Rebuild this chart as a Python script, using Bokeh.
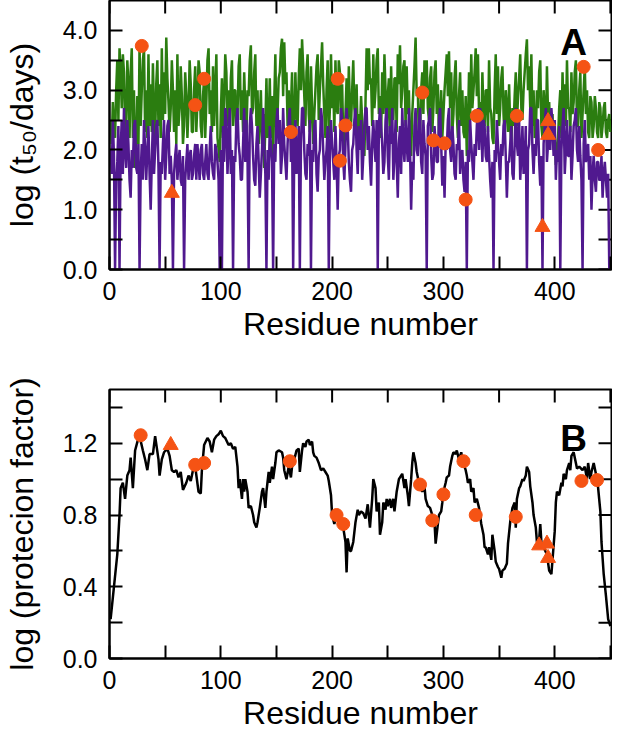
import math
from bokeh.plotting import figure
from bokeh.models import Range1d, FixedTicker, Label, NumeralTickFormatter
from bokeh.layouts import column
from bokeh.embed import file_html
from bokeh.resources import INLINE

# ---------------- data: panel A (one value per residue, 1..450) ----------------
residue_a = list(range(1, 451))

green_a = [
    2.5, 2.1, 2.8, 2.4, 2.2, 3.0, 3.5, 2.5, 3.7, 3.3, 2.7, 3.6, 3.3, 2.3, 2.4, 3.5, 3.1, 2.2, 3.3, 3.7,
    2.2, 3.0, 1.7, 2.0, 2.9, 2.1, 3.75, 2.4, 3.0, 3.5, 3.7, 2.3, 3.0, 2.2, 3.6, 2.4, 3.1, 2.3, 3.45, 2.6,
    2.2, 3.1, 3.5, 2.4, 3.1, 2.2, 3.7, 2.5, 3.3, 2.6, 3.88, 3.2, 2.8, 2.3, 2.7, 3.5, 3.0, 2.3, 3.0, 2.1,
    3.6, 2.4, 2.7, 3.4, 2.9, 2.1, 2.4, 3.3, 2.9, 2.2, 2.7, 3.5, 3.1, 2.3, 2.3, 3.0, 3.4, 2.3, 2.8, 3.5,
    3.3, 2.4, 2.2, 2.9, 3.2, 2.2, 2.8, 3.5, 3.7, 2.6, 3.0, 2.3, 3.4, 2.4, 3.0, 3.6, 2.2, 2.0, 1.8, 2.6,
    3.2, 2.2, 2.8, 3.6, 3.3, 2.4, 3.0, 2.2, 3.2, 3.5, 2.4, 3.0,
    3.0, 2.2, 2.6, 3.4, 3.6, 2.5, 3.0, 2.3, 3.3, 2.7, 2.2, 3.0, 2.9, 3.5, 3.75, 2.6, 2.7, 3.3, 3.6, 2.4,
    3.0, 2.1, 2.5, 3.0, 2.1, 2.6, 1.7, 2.4, 3.2, 2.2, 2.4, 3.2, 2.2, 2.9, 1.9, 2.8, 3.6, 2.3, 2.6, 3.2,
    3.3, 3.7, 3.86, 2.9, 3.8, 3.1, 3.3, 2.4, 3.0, 2.2, 2.7, 3.3, 2.0, 2.4, 3.3, 2.6, 2.4, 3.2, 3.7, 3.0,
    3.85, 3.4, 2.9, 2.4, 3.3, 3.6, 2.6, 2.3, 3.4, 2.7, 2.1, 2.6, 3.0, 3.4, 3.6, 2.5, 3.0, 3.4, 3.8, 3.1,
    2.6, 2.2, 3.0, 3.5, 2.2, 2.7, 3.6, 2.7, 3.1, 2.3, 3.5, 2.7, 2.6, 3.5, 3.3, 2.4, 3.1, 2.2, 1.9, 2.6,
    3.2, 2.3, 3.4, 2.7, 2.4, 3.0, 3.5, 2.7, 2.5, 3.1, 2.2, 2.6,
    2.3, 2.9, 2.5, 2.1, 1.9, 2.8, 3.7, 3.0, 3.7, 3.1, 3.2, 2.4, 3.6, 2.7, 3.0, 3.5, 3.7, 2.6, 2.9, 2.2,
    3.3, 2.6, 3.6, 3.0, 2.2, 2.9, 3.2, 2.3, 3.4, 2.6, 2.5, 3.2, 3.2, 2.3, 3.6, 3.1, 3.75, 2.7, 3.0, 3.4,
    3.5, 2.4, 3.4, 2.6, 3.0, 2.1, 1.9, 2.6, 3.0, 3.4, 3.88, 2.9, 3.0, 2.1, 2.3, 3.0, 3.3, 2.6, 3.5, 2.9,
    3.5, 2.7, 2.5, 3.2, 3.4, 2.3, 2.7, 3.3, 3.5, 2.6, 3.1, 2.2, 2.5, 3.0, 2.2, 2.6, 3.0, 3.3, 3.6, 2.9,
    3.65, 2.7, 3.3, 2.3, 2.6, 3.2, 3.5, 2.6, 2.2, 2.9, 3.3, 2.4, 3.0, 2.3, 2.2, 2.9, 1.9, 2.4, 3.3, 2.5,
    3.6, 2.7, 3.0, 3.3, 3.7, 2.9, 3.6, 2.6, 2.8, 2.2, 3.3, 2.6, 2.4, 3.0,
    3.0, 2.3, 3.5, 2.7, 2.6, 2.2, 2.1, 3.0, 3.6, 2.6, 3.4, 2.4, 2.7, 3.2, 3.4, 2.6, 2.2, 3.0, 2.7, 2.3,
    3.1, 2.4, 2.1, 2.7, 2.4, 2.9, 3.3, 2.4, 2.9, 3.2, 3.6, 2.7, 2.5, 3.0, 3.3, 3.6, 3.85, 3.0, 3.4, 2.7,
    3.6, 2.4, 3.0, 2.2, 2.3, 3.0, 2.7, 3.3, 3.5, 2.4, 2.2, 3.0, 2.7, 2.2, 3.4, 2.6, 2.8, 2.3, 2.2, 2.6,
    2.0, 2.3, 1.75, 2.0, 2.2, 2.7, 3.0, 2.2, 3.3, 2.6, 3.1, 2.4, 3.5, 2.7, 2.7, 2.3, 3.3, 2.6, 2.8, 3.3,
    3.5, 2.4, 2.4, 3.0, 3.3, 2.2, 2.6, 3.0, 3.4, 2.6, 3.0, 2.3, 2.2, 2.9, 2.8, 2.2, 2.4, 2.9, 2.7, 2.3,
    2.2, 2.8, 2.7, 2.2, 2.4, 2.7, 2.8, 2.3, 2.2, 2.5, 2.6, 2.3,
]

purple_a = [
    2.0, 1.6, 2.5, 1.9, 0, 1.5, 1.8, 2.4, 0, 2.0, 2.5, 1.6, 2.7, 2.0, 1.7, 2.5, 2.1, 1.5, 1.2, 2.0,
    1.7, 2.4, 2.5, 1.7, 1.6, 2.1, 0, 1.6, 2.1, 1.5, 2.5, 2.0, 1.5, 2.0, 2.4, 1.6, 1.0, 1.8, 2.5, 1.6,
    2.0, 2.4, 2.5, 1.7, 0, 1.8, 1.6, 2.1, 2.5, 1.5, 1.9, 2.4, 2.5, 1.6, 1.9, 1.5, 0, 1.6, 1.9, 2.1,
    1.5, 1.8, 2.0, 1.5, 1.4, 1.9, 0, 1.5, 1.8, 2.1, 1.5, 1.9, 2.0, 1.5, 1.6, 1.9, 2.1, 1.5, 2.1, 1.8,
    1.5, 2.0, 2.1, 1.6, 1.5, 1.8, 2.1, 1.6, 1.5, 2.0, 2.4, 1.8, 1.6, 1.5, 2.1, 2.0, 1.8, 1.5, 0, 2.0,
    0, 2.4, 1.8, 2.7, 2.5, 1.6, 2.1, 2.7, 1.6, 2.0, 0, 1.9,
    1.8, 2.5, 2.7, 2.1, 1.9, 1.5, 1.5, 2.1, 2.7, 1.8, 2.5, 1.9, 0, 2.4, 2.7, 2.4, 1.9, 1.5, 1.4, 2.1,
    2.4, 1.8, 1.2, 1.6, 2.0, 2.7, 2.1, 1.6, 0, 2.0, 1.5, 2.4, 2.1, 1.8, 0, 2.1, 1.8, 2.5, 2.7, 2.1,
    2.5, 1.6, 1.9, 2.7, 2.1, 1.8, 1.5, 2.1, 2.5, 2.7, 1.8, 2.4, 0, 2.0, 2.5, 1.6, 1.9, 2.4, 0, 2.1,
    2.7, 2.7, 2.0, 1.6, 1.5, 2.1, 1.9, 2.5, 0, 2.0, 1.8, 2.4, 2.5, 1.6, 1.3, 1.9, 2.0, 2.7, 2.5, 2.0,
    1.5, 1.8, 2.0, 2.4, 0, 2.0, 2.5, 2.1, 1.8, 1.5, 2.4, 1.8, 1.0, 1.9, 2.0, 2.7, 2.5, 1.8, 1.5, 2.1,
    2.7, 2.4, 1.8, 1.5, 1.3, 2.0, 2.1, 2.5, 2.7, 2.0, 1.6, 2.4,
    2.0, 2.5, 1.5, 1.9, 2.4, 2.7, 2.7, 2.0, 2.4, 1.8, 1.4, 2.1, 2.5, 2.1, 1.8, 2.5, 0, 2.4, 2.7, 2.4,
    2.1, 1.6, 1.8, 2.5, 2.7, 1.9, 1.5, 2.4, 2.1, 2.7, 1.5, 1.9, 2.5, 1.8, 1.2, 2.1, 2.4, 1.6, 2.7, 2.1,
    1.8, 2.5, 2.1, 1.8, 2.7, 2.0, 1.0, 1.8, 1.5, 2.4, 2.7, 2.0, 1.9, 2.4, 2.7, 1.8, 1.6, 2.5, 2.1, 1.9,
    0, 2.4, 2.5, 2.7, 1.9, 1.5, 1.6, 2.4, 2.1, 1.8, 1.8, 2.5, 2.7, 2.1, 1.4, 1.9, 1.2, 2.1, 2.0, 2.5,
    2.7, 2.0, 1.8, 2.4, 2.1, 1.6, 1.5, 2.1, 2.0, 2.5, 1.6, 1.9, 2.0, 1.5, 1.3, 1.8, 0, 2.0, 1.8, 2.5,
    2.1, 1.8, 1.5, 2.1, 1.9, 2.4, 2.7, 2.0, 2.7, 2.4, 1.8, 2.5, 2.4, 1.9,
    1.8, 2.4, 1.9, 1.5, 1.2, 1.8, 0, 2.0, 1.8, 2.5, 2.1, 1.8, 1.5, 2.1, 1.9, 2.4, 2.5, 1.9, 1.2, 1.8,
    1.8, 2.1, 2.4, 1.6, 1.5, 2.1, 2.7, 2.1, 1.9, 2.5, 1.5, 1.9, 2.4, 1.6, 1.8, 2.4, 0, 2.0, 2.1, 2.7,
    2.7, 2.0, 1.6, 2.1, 1.9, 2.5, 2.5, 1.8, 1.4, 1.9, 0, 2.1, 2.4, 2.7, 1.8, 2.1, 2.5, 2.0, 2.7, 2.4,
    1.9, 2.5, 1.5, 2.0, 1.8, 2.4, 0, 2.0, 2.4, 2.7, 1.6, 2.0, 2.5, 1.9, 1.9, 2.4, 1.5, 1.9, 2.4, 2.5,
    2.7, 2.0, 1.8, 2.4, 1.9, 1.5, 0, 2.1, 2.5, 1.8, 1.9, 2.1, 1.5, 1.9, 1.0, 1.6, 1.9, 1.5, 1.3, 1.8,
    1.8, 1.5, 1.5, 1.9, 1.2, 1.6, 1.8, 1.5, 1.2, 1.6, 0, 0,
]

circle_a_res = [29, 77, 85, 163, 205, 207, 212, 281, 291, 301, 320, 330, 366, 426, 439]
circle_a_val = [3.74, 2.75, 3.19, 2.30, 3.19, 1.82, 2.41, 2.96, 2.16, 2.11, 1.17, 2.57, 2.57, 3.39, 2.00]
triangle_a_res = [56, 389, 394, 394]
triangle_a_val = [1.28, 0.71, 2.25, 2.48]

# ---------------- data: panel B ----------------
protection_res = [
    1, 4, 7, 9, 10, 12, 14, 16, 18, 19, 21, 23, 26, 27, 30, 32, 34, 36, 39, 41, 44, 45, 47, 49, 52, 54, 56, 58, 60, 62,
    64, 66, 69, 71, 73, 75, 77, 80, 82, 83, 85, 88, 90, 92, 94, 96, 98, 100, 102, 104, 107, 109, 111, 113, 115, 116, 117,
    119, 120, 121, 122, 124, 125, 127, 129, 130, 132, 133, 135, 137, 138, 140, 141, 143, 144, 146, 147, 149, 150, 152,
    155, 156, 157, 159, 161, 163, 165, 166, 168, 170, 171, 173, 174, 176, 177, 179, 180, 182, 183, 184, 186, 188, 190,
    192, 194, 196, 197, 199, 200, 202, 204, 206, 208, 210, 212, 213, 214, 216, 217, 219, 221, 223, 224, 226, 228, 230,
    232, 234, 236, 237, 239, 240, 242, 243, 245, 246, 248, 249, 250, 252, 253, 255, 256, 258, 260, 262, 263, 265, 266,
    268, 269, 271, 272, 273, 275, 276, 278, 279, 281, 283, 284, 286, 288, 290, 292, 293, 295, 296, 298, 299, 300, 302,
    303, 305, 306, 308, 309, 311, 312, 314, 316, 317, 320, 321, 322, 324, 325, 327, 328, 330, 332, 334, 336, 337, 338,
    340, 341, 343, 344, 346, 347, 349, 350, 352, 353, 355, 357, 358, 360, 362, 364, 365, 366, 368, 369, 371, 372, 374,
    375, 377, 378, 380, 381, 383, 384, 386, 387, 388, 390, 393, 395, 397, 398, 400, 401, 402, 404, 406, 407, 408, 410,
    411, 413, 414, 415, 417, 419, 420, 422, 425, 427, 429, 430, 432, 433, 435, 438, 439, 441, 442, 444, 446, 448, 450,
]
protection_val = [
    0.22, 0.40, 0.58, 0.80, 0.95, 0.98, 0.89, 1.02, 1.05, 1.12, 0.95, 1.16, 1.23, 1.24, 1.16, 1.11, 1.05, 1.14, 1.14,
    1.24, 1.11, 1.02, 1.11, 1.15, 1.17, 1.13, 1.05, 1.04, 1.05, 1.01, 1.04, 0.94, 0.98, 1.02, 0.99, 1.05, 1.07, 0.93,
    0.92, 1.05, 1.19, 1.23, 1.21, 1.15, 1.22, 1.24, 1.25, 1.27, 1.24, 1.23, 1.19, 1.20, 1.17, 1.18, 1.07, 0.95, 1.0,
    0.89, 1.0, 0.93, 1.0, 0.93, 0.84, 0.85, 0.80, 0.76, 0.73, 0.76, 0.84, 0.93, 0.95, 0.84, 0.93, 1.04, 0.98, 1.07,
    1.0, 1.09, 1.15, 1.16, 1.15, 1.12, 1.05, 1.0, 1.07, 1.01, 1.13, 1.11, 1.16, 1.17, 1.04, 1.16, 1.2, 1.18, 1.21,
    1.22, 1.19, 1.21, 1.15, 1.13, 1.12, 1.09, 1.05, 1.06, 1.04, 1.02, 0.99, 0.91, 0.80, 0.75, 0.81, 0.78, 0.76, 0.73,
    0.65, 0.48, 0.67, 0.60, 0.60, 0.65, 0.76, 0.83, 0.80, 0.82, 0.81, 0.78, 0.86, 0.73, 0.89, 1.0, 0.95, 0.82, 0.87,
    0.69, 0.76, 0.87, 0.83, 0.89, 0.85, 0.89, 0.84, 0.89, 0.82, 0.93, 1.0, 1.02, 1.03, 0.95, 1.0, 0.91, 0.85, 1.0,
    1.09, 1.15, 1.09, 1.04, 0.98, 0.96, 0.93, 0.96, 0.89, 0.85, 0.84, 0.80, 0.76, 0.64, 0.75, 0.80, 0.82, 0.87, 0.93,
    0.98, 1.01, 1.02, 1.07, 1.13, 1.15, 1.14, 1.16, 1.11, 1.15, 1.11, 1.05, 1.02, 0.98, 1.0, 0.93, 0.95, 0.87, 0.89,
    0.84, 0.75, 0.69, 0.62, 0.62, 0.58, 0.62, 0.55, 0.69, 0.60, 0.54, 0.51, 0.50, 0.45, 0.49, 0.50, 0.53, 0.64, 0.76,
    0.84, 0.87, 0.73, 0.89, 0.95, 0.96, 1.0, 0.99, 1.02, 1.07, 1.04, 0.96, 0.87, 0.80, 0.73, 0.65, 0.66, 0.75, 0.65,
    0.62, 0.58, 0.49, 0.47, 0.55, 0.71, 0.87, 0.93, 0.91, 0.98, 0.96, 1.03, 1.0, 1.05, 1.09, 1.05, 1.13, 1.15, 1.09,
    1.06, 1.07, 1.05, 1.07, 1.0, 1.09, 1.0, 1.04, 1.09, 1.0, 0.95, 0.82, 0.65, 0.47, 0.35, 0.22, 0.18,
]

circle_b_res = [28, 77, 85, 162, 204, 210, 279, 290, 300, 318, 329, 365, 424, 438]
circle_b_val = [1.245, 1.08, 1.09, 1.10, 0.80, 0.75, 0.97, 0.77, 0.915, 1.10, 0.80, 0.79, 0.99, 0.995]
triangle_b_res = [55, 386, 393, 394]
triangle_b_val = [1.19, 0.63, 0.64, 0.56]

x_ticks = [0, 100, 200, 300, 400]
x_minor = [50, 150, 250, 350, 450]
ya_ticks = [0, 1, 2, 3, 4]
ya_minor = [0.5, 1.5, 2.5, 3.5]
yb_ticks = [0, 0.4, 0.8, 1.2]
yb_minor = [0.2, 0.6, 1.0, 1.4]

X_END = 451
FONT = "Liberation Sans"
GREEN = "#2B7D10"
PURPLE = "#50198F"
ORANGE = "#F55314"


def style_axis(ax):
    ax.axis_line_width = 2
    ax.axis_line_color = "black"
    ax.major_tick_in = 13
    ax.major_tick_out = 0
    ax.minor_tick_in = 13
    ax.minor_tick_out = 0
    ax.major_tick_line_width = 2
    ax.minor_tick_line_width = 2
    ax.major_label_text_font = FONT
    ax.major_label_text_font_size = "25px"
    ax.major_label_text_color = "black"
    ax.axis_label_text_font = FONT
    ax.axis_label_text_font_size = "32px"
    ax.axis_label_text_font_style = "normal"
    ax.axis_label_text_color = "black"


def make_fig(height, y_end, yt, ym, ylabel, top_border, bottom_border, tag, tag_y):
    p = figure(width=612, height=height,
               x_range=Range1d(0, X_END), y_range=Range1d(0, y_end),
               output_backend="svg", toolbar_location=None,
               min_border_left=106, min_border_right=1,
               min_border_top=top_border, min_border_bottom=bottom_border)
    p.xgrid.visible = False
    p.ygrid.visible = False
    p.outline_line_color = "black"
    p.outline_line_width = 2
    p.background_fill_color = "white"
    p.border_fill_color = "white"

    p.xaxis.ticker = FixedTicker(ticks=x_ticks, minor_ticks=x_minor)
    p.yaxis.ticker = FixedTicker(ticks=yt, minor_ticks=ym)
    p.yaxis.formatter = NumeralTickFormatter(format="0.0")
    p.xaxis.axis_label = "Residue number"
    p.yaxis.axis_label = ylabel
    for ax in p.xaxis:
        style_axis(ax)
        ax.major_label_standoff = 12
        ax.axis_label_standoff = 3
    for ax in p.yaxis:
        style_axis(ax)
        ax.major_label_standoff = 12
        ax.axis_label_standoff = 20

    # inward ticks on the top and right frame edges (half of each dash is clipped by the frame)
    top_x = x_ticks + x_minor
    p.scatter(top_x, [y_end] * len(top_x), marker="dash", angle=math.pi / 2, size=26,
              line_color="black", line_width=2)
    right_y = yt + ym
    p.scatter([X_END] * len(right_y), right_y, marker="dash", size=26,
              line_color="black", line_width=2)

    p.add_layout(Label(x=405, y=tag_y, text=tag, text_font=FONT, text_font_size="37px",
                       text_font_style="bold", text_color="black", text_baseline="alphabetic"))
    return p


pa = make_fig(362, 4.5, ya_ticks, ya_minor, "log (t₅₀/days)", 0, 93, "A", 3.8)
pa.line(residue_a, green_a, line_color=GREEN, line_width=2.5)
pa.line(residue_a, purple_a, line_color=PURPLE, line_width=2.5)
pa.scatter(circle_a_res, circle_a_val, marker="circle", size=13, fill_color=ORANGE, line_color=ORANGE)
pa.scatter(triangle_a_res, triangle_a_val, marker="triangle", size=15, fill_color=ORANGE, line_color=ORANGE)

pb = make_fig(372, 1.5, yb_ticks, yb_minor, "log (protecion factor)", 27, 76, "B", 1.225)
pb.line(protection_res, protection_val, line_color="black", line_width=2.5)
pb.scatter(circle_b_res, circle_b_val, marker="circle", size=13, fill_color=ORANGE, line_color=ORANGE)
pb.scatter(triangle_b_res, triangle_b_val, marker="triangle", size=15, fill_color=ORANGE, line_color=ORANGE)

layout = column(pa, pb, spacing=0)
open("out.html", "w").write(file_html(layout, INLINE))
